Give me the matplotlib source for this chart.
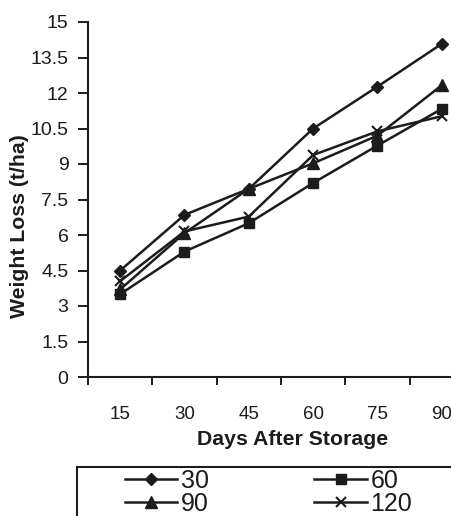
import matplotlib
matplotlib.use("Agg")
import matplotlib.pyplot as plt
from matplotlib.patches import Rectangle

plt.rcParams['font.family'] = ['Liberation Sans', 'DejaVu Sans']

days = ["15", "30", "45", "60", "75", "90"]
yticks = [0, 1.5, 3, 4.5, 6, 7.5, 9, 10.5, 12, 13.5, 15]
ytick_labels = ["0", "1.5", "3", "4.5", "6", "7.5", "9", "10.5", "12", "13.5", "15"]

loss_30 = [4.5, 6.85, 7.95, 10.5, 12.27, 14.08]
loss_60 = [3.5, 5.3, 6.5, 8.2, 9.78, 11.33]
loss_90 = [3.7, 6.08, 7.95, 9.03, 10.2, 12.33]
loss_120 = [4.05, 6.15, 6.78, 9.38, 10.38, 11.02]

W, H = 452, 516
fig = plt.figure(figsize=(W / 100, H / 100), dpi=100)
ax = fig.add_axes([88 / W, 1 - 377 / H, 386 / W, 355 / H])

ink = "#1c1c1c"
x = list(range(len(days)))
l30, = ax.plot(x, loss_30, color=ink, lw=1.8, marker="D", ms=6, label="30")
l60, = ax.plot(x, loss_60, color=ink, lw=1.8, marker="s", ms=7.5, label="60")
l90, = ax.plot(x, loss_90, color=ink, lw=1.8, marker="^", ms=8, label="90")
l120, = ax.plot(x, loss_120, color=ink, lw=1.8, marker="x", ms=7, mew=1.5, label="120")

ax.set_xlim(-0.5, 5.5)
ax.set_ylim(0, 15)
ax.set_yticks(yticks)
ax.set_yticklabels(ytick_labels)

# category axis: tick marks between groups, labels under the points
ax.set_xticks([i - 0.5 for i in range(len(days) + 1)])
ax.set_xticklabels([])
ax.set_xticks(x, minor=True)
ax.set_xticklabels(days, minor=True)
ax.tick_params(axis="x", which="major", direction="out", length=6, width=1.4, color=ink)
ax.tick_params(axis="x", which="minor", length=0, pad=21, labelsize=13.5, labelcolor=ink)
ax.tick_params(axis="y", direction="out", length=7, width=1.4, color=ink,
               pad=7, labelsize=14, labelcolor=ink)

for s in ["top", "right"]:
    ax.spines[s].set_visible(False)
for s in ["left", "bottom"]:
    ax.spines[s].set_linewidth(1.5)
    ax.spines[s].set_color(ink)

ax.set_xlabel("Days After Storage", fontsize=15.3, fontweight="bold", color=ink)
ax.xaxis.set_label_coords((293 - 88) / 386, (377 - 430) / 355)
fig.text(20 / W, 1 - 226 / H, "Weight Loss (t/ha)", rotation=90, ha="center",
         va="center", fontsize=15.3, fontweight="bold", color=ink)

# legend box running off the bottom-right of the picture
fig.patches.append(Rectangle((77 / W, -0.1), 1.0, (H - 467) / H + 0.1,
                             transform=fig.transFigure, fill=False,
                             edgecolor=ink, lw=1.5))
# ncol fills column by column, so order gives rows 30/60 and 90/120
fig.legend([l30, l90, l60, l120], ["30", "90", "60", "120"],
           loc="upper left", bbox_to_anchor=(125 / W, 1 - 469 / H), ncol=2,
           frameon=False, fontsize=18, borderpad=0, borderaxespad=0,
           handlelength=2.1, handletextpad=0.15, labelspacing=-0.05,
           columnspacing=4.2, labelcolor=ink)

fig.savefig("out.png", dpi=100)
